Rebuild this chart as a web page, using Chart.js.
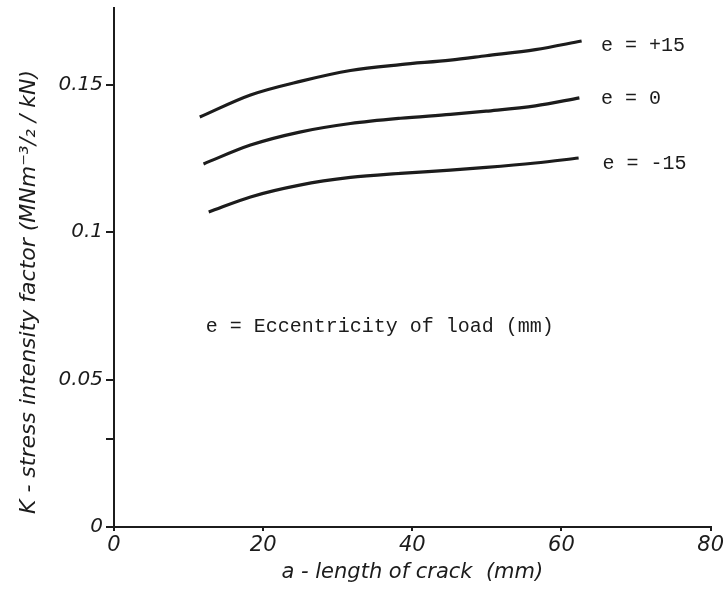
<!DOCTYPE html>
<html>
<head>
<meta charset="utf-8">
<script src="https://cdn.jsdelivr.net/npm/chart.js@4"></script>
<style>
  html, body { margin: 0; padding: 0; background: #fff; }
  #wrap { width: 726px; height: 591px; position: relative; }
</style>
</head>
<body>
<div id="wrap"><canvas id="myChart"></canvas></div>
<script>
// crack length a (mm) vs K
var crackPlus15 = [11.5, 18.3, 25.1, 31.7, 38.4, 45.1, 49.9, 56.5, 62.7];
var kPlus15 = [0.1391, 0.1466, 0.1513, 0.1549, 0.1569, 0.1584, 0.1599, 0.1620, 0.1649];

var crackZero = [12.0, 18.3, 24.9, 31.7, 38.4, 45.1, 49.9, 56.5, 62.4];
var kZero = [0.1232, 0.1296, 0.1340, 0.1369, 0.1387, 0.1400, 0.1411, 0.1429, 0.1456];

var crackMinus15 = [12.7, 18.3, 24.9, 31.7, 38.4, 45.1, 49.9, 56.5, 62.3];
var kMinus15 = [0.1069, 0.1120, 0.1160, 0.1186, 0.1200, 0.1211, 0.1220, 0.1235, 0.1252];

var seriesNames = ['e = +15', 'e = 0', 'e = -15'];
var xTicks = [0, 20, 40, 60, 80];
var yTicks = [0, 0.03, 0.05, 0.1, 0.15];
var yTickLabels = {0: '0', 0.05: '0.05', 0.1: '0.1', 0.15: '0.15'};

var ink = '#1c1c1c';
var typeFont = '"Liberation Mono", monospace';
var axisFont = '"DejaVu Sans", sans-serif';

function toPoints(xs, ys) {
    let pts = [];
    for (let i = 0; i < xs.length; i++) {
        pts.push({x: xs[i], y: ys[i]});
    }
    return pts;
}

function makeDataset(label, xs, ys) {
    return {
        label: label,
        data: toPoints(xs, ys),
        borderColor: ink,
        borderWidth: 3.2,
        pointRadius: 0,
        cubicInterpolationMode: 'monotone',
        fill: false
    };
}

// Text notes written on the plot, placed in data units
var notes = [
    {text: 'e = +15', x: 65.3, y: 0.1632},
    {text: 'e = 0', x: 65.3, y: 0.1452},
    {text: 'e = -15', x: 65.5, y: 0.1232},
    {text: 'e = Eccentricity of load (mm)', x: 12.3, y: 0.0679}
];

var notesPlugin = {
    id: 'notes',
    afterDatasetsDraw: function(chart) {
        let ctx = chart.ctx;
        let xs = chart.scales.x;
        let ys = chart.scales.y;
        ctx.save();
        ctx.fillStyle = ink;
        ctx.font = '20px ' + typeFont;
        ctx.textAlign = 'left';
        ctx.textBaseline = 'middle';
        for (let i = 0; i < notes.length; i++) {
            ctx.fillText(notes[i].text, xs.getPixelForValue(notes[i].x), ys.getPixelForValue(notes[i].y));
        }
        ctx.restore();
    }
};

var ctx = document.getElementById('myChart').getContext('2d');
var chart = new Chart(ctx, {
    type: 'line',
    data: {
        datasets: [
            makeDataset(seriesNames[0], crackPlus15, kPlus15),
            makeDataset(seriesNames[1], crackZero, kZero),
            makeDataset(seriesNames[2], crackMinus15, kMinus15)
        ]
    },
    options: {
        animation: false,
        responsive: true,
        maintainAspectRatio: false,
        layout: {padding: {top: 8, right: 14, left: 0, bottom: 0}},
        plugins: {
            legend: {display: false},
            tooltip: {enabled: false}
        },
        scales: {
            x: {
                type: 'linear',
                min: 0,
                max: 80,
                afterBuildTicks: function(scale) {
                    scale.ticks = xTicks.map(function(v) { return {value: v}; });
                },
                afterFit: function(scale) { scale.height = 64; },
                ticks: {
                    color: ink,
                    font: {family: axisFont, size: 21, style: 'italic'},
                    padding: 2,
                    maxRotation: 0
                },
                grid: {display: true, drawOnChartArea: false, drawTicks: true, tickLength: 4, color: ink, lineWidth: 2},
                border: {display: true, color: ink, width: 2},
                title: {
                    display: true,
                    text: 'a - length of crack  (mm)',
                    color: ink,
                    font: {family: axisFont, size: 21, style: 'italic'},
                    padding: {top: 0, bottom: 6}
                }
            },
            y: {
                type: 'linear',
                min: 0,
                max: 0.1761,
                afterBuildTicks: function(scale) {
                    scale.ticks = yTicks.map(function(v) { return {value: v}; });
                },
                afterFit: function(scale) {
                    scale.width = 114;
                    // axis line runs right up to the top edge
                    scale.paddingTop = 0;
                    scale.paddingBottom = 0;
                },
                ticks: {
                    color: ink,
                    font: {family: axisFont, size: 20, style: 'italic'},
                    padding: 3,
                    callback: function(v) {
                        return yTickLabels[v] !== undefined ? yTickLabels[v] : '';
                    }
                },
                grid: {display: true, drawOnChartArea: false, drawTicks: true, tickLength: 8, color: ink, lineWidth: 2},
                border: {display: true, color: ink, width: 2},
                title: {
                    display: true,
                    // trailing spaces push the rotated text down a little, as in the original
                    text: 'K - stress intensity factor (MNm\u207B\u00B3/\u2082 / kN)\u00A0\u00A0\u00A0\u00A0\u00A0\u00A0\u00A0',
                    color: ink,
                    font: {family: axisFont, size: 22, style: 'italic'},
                    padding: {top: 16, bottom: 4}
                }
            }
        }
    },
    plugins: [notesPlugin]
});
</script>
</body>
</html>
